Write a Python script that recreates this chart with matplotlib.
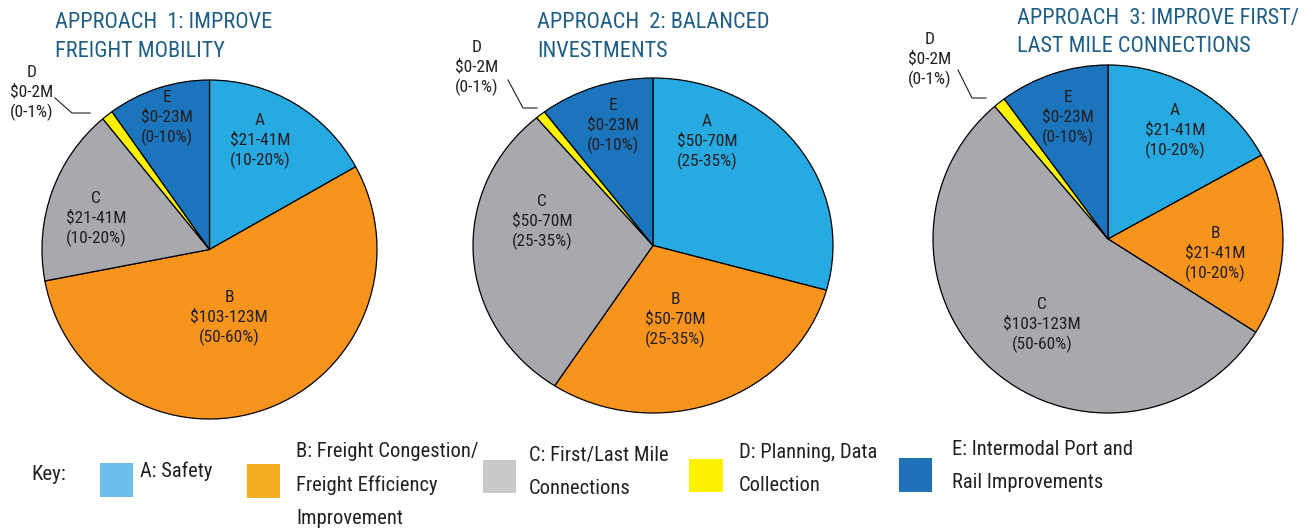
import matplotlib
matplotlib.use("Agg")
import matplotlib.pyplot as plt
from matplotlib.patches import Rectangle
from matplotlib.lines import Line2D

# data (shares, clockwise from 12 o'clock: A, B, C, D, E)
categories = ["A", "B", "C", "D", "E"]
approach1 = [16.9, 55.2, 17.0, 1.1, 9.9]
approach2 = [29.3, 29.9, 29.6, 0.9, 10.3]
approach3 = [17.0, 17.0, 54.8, 1.1, 10.1]

titles = [
    "APPROACH  1: IMPROVE\nFREIGHT MOBILITY",
    "APPROACH  2: BALANCED\nINVESTMENTS",
    "APPROACH  3: IMPROVE FIRST/\nLAST MILE CONNECTIONS",
]

amounts1 = ["$21-41M\n(10-20%)", "$103-123M\n(50-60%)", "$21-41M\n(10-20%)", "$0-2M\n(0-1%)", "$0-23M\n(0-10%)"]
amounts2 = ["$50-70M\n(25-35%)", "$50-70M\n(25-35%)", "$50-70M\n(25-35%)", "$0-2M\n(0-1%)", "$0-23M\n(0-10%)"]
amounts3 = ["$21-41M\n(10-20%)", "$21-41M\n(10-20%)", "$103-123M\n(50-60%)", "$0-2M\n(0-1%)", "$0-23M\n(0-10%)"]

key_labels = [
    "A: Safety",
    "B: Freight Congestion/\nFreight Efficiency\nImprovement",
    "C: First/Last Mile\nConnections",
    "D: Planning, Data\nCollection",
    "E: Intermodal Port and\nRail Improvements",
]

pie_colors = ["#27a9e1", "#f7941e", "#a7a9ac", "#fff200", "#1c75bc"]
key_colors = ["#6dbeea", "#f7ae1e", "#c8c9cb", "#fff200", "#1f72b8"]

W, H = 1307, 529
FONT = ["Roboto Condensed", "DejaVu Sans Condensed", "Roboto", "DejaVu Sans"]
TITLE_COLOR = "#1d5d86"
TXT = "#231f20"


def fx(x):
    return x / W


def fy(y):
    return 1 - y / H


fig = plt.figure(figsize=(W / 100, H / 100), dpi=100)

# pie geometry in pixels: centre x, centre y, radius x, radius y
pies = [
    (209.5, 249.5, 167.5, 169.5),
    (653, 245.5, 180, 167.5),
    (1108, 239, 175, 174),
]
title_pos = [(55, 37), (537, 37), (1017, 32.5)]
# label centres (pixels) for A, B, C, E
label_pos = [
    {"A": (260, 141), "B": (229, 318), "C": (96, 219), "E": (167, 118)},
    {"A": (707, 142), "B": (675, 320), "C": (542, 222), "E": (613, 126)},
    {"A": (1175, 131), "B": (1215, 254), "C": (1042, 325), "E": (1068, 118)},
]
d_label = [(32, 93), (477, 68), (930, 60)]
d_leader = [
    [(55, 98), (72, 113), (90, 113)],
    [(508, 80), (523, 108), (537, 108)],
    [(958, 70), (972, 98), (986, 98)],
]

lim = 1.03
for i, (vals, amts) in enumerate(zip([approach1, approach2, approach3], [amounts1, amounts2, amounts3])):
    cx, cy, rx, ry = pies[i]
    ax = fig.add_axes([fx(cx - rx * lim), fy(cy + ry * lim), 2 * rx * lim / W, 2 * ry * lim / H])
    ax.pie(vals, colors=pie_colors, startangle=90, counterclock=False,
           wedgeprops=dict(edgecolor="black", linewidth=0.9))
    ax.set_aspect("auto")
    ax.set_xlim(-lim, lim)
    ax.set_ylim(-lim, lim)
    ax.axis("off")

    tx, ty = title_pos[i]
    fig.text(fx(tx), fy(ty), titles[i], family=FONT, fontsize=16, color=TITLE_COLOR,
             ha="left", va="center", linespacing=1.45)

    for cat, amt in zip(categories, amts):
        if cat == "D":
            x, y = d_label[i]
        else:
            x, y = label_pos[i][cat]
        fig.text(fx(x), fy(y), cat + "\n" + amt, family=FONT, fontsize=12.5, color=TXT,
                 ha="center", va="center", multialignment="center", linespacing=1.28)

    pts = d_leader[i]
    fig.add_artist(Line2D([fx(p[0]) for p in pts], [fy(p[1]) for p in pts],
                          color="#231f20", linewidth=0.8, transform=fig.transFigure))

# key
fig.text(fx(31), fy(475), "Key:", family=FONT, fontsize=15, color=TXT, ha="left", va="center")
key_boxes = [(100, 463, 33, 34), (247, 464, 33, 34), (483, 460, 33, 33), (689, 459, 34, 33), (899, 458, 33, 34)]
key_text = [(140, 471), (296, 485), (529, 472), (739, 469), (952, 466)]
for lab, col, box, tpos in zip(key_labels, key_colors, key_boxes, key_text):
    bx, by, bw, bh = box
    fig.add_artist(Rectangle((fx(bx), fy(by + bh)), bw / W, bh / H, facecolor=col,
                             edgecolor="none", transform=fig.transFigure))
    fig.text(fx(tpos[0]), fy(tpos[1]), lab, family=FONT, fontsize=14.8, color=TXT,
             ha="left", va="center", linespacing=1.95)

fig.savefig("out.png", dpi=100)
